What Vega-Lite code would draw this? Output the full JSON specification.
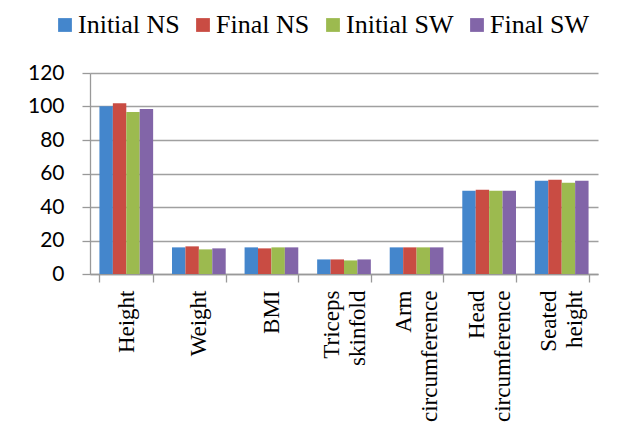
{
  "$schema": "https://vega.github.io/schema/vega-lite/v6.json",
  "width": 508,
  "height": 201,
  "autosize": {"type": "none"},
  "padding": {"left": 90, "top": 73, "right": 23, "bottom": 154},
  "background": "white",
  "config": {"view": {"stroke": null}},
  "data": {
    "values": [
      {"measure": "Height", "series": "Initial NS", "value": 100.2},
      {"measure": "Height", "series": "Final NS", "value": 102.0},
      {"measure": "Height", "series": "Initial SW", "value": 96.7},
      {"measure": "Height", "series": "Final SW", "value": 98.5},
      {"measure": "Weight", "series": "Initial NS", "value": 15.9},
      {"measure": "Weight", "series": "Final NS", "value": 16.5},
      {"measure": "Weight", "series": "Initial SW", "value": 14.7},
      {"measure": "Weight", "series": "Final SW", "value": 15.3},
      {"measure": "BMI", "series": "Initial NS", "value": 15.9},
      {"measure": "BMI", "series": "Final NS", "value": 15.3},
      {"measure": "BMI", "series": "Initial SW", "value": 15.9},
      {"measure": "BMI", "series": "Final SW", "value": 15.9},
      {"measure": "Triceps skinfold", "series": "Initial NS", "value": 8.7},
      {"measure": "Triceps skinfold", "series": "Final NS", "value": 8.7},
      {"measure": "Triceps skinfold", "series": "Initial SW", "value": 8.1},
      {"measure": "Triceps skinfold", "series": "Final SW", "value": 8.7},
      {"measure": "Arm circumference", "series": "Initial NS", "value": 15.9},
      {"measure": "Arm circumference", "series": "Final NS", "value": 15.9},
      {"measure": "Arm circumference", "series": "Initial SW", "value": 15.9},
      {"measure": "Arm circumference", "series": "Final SW", "value": 15.9},
      {"measure": "Head circumference", "series": "Initial NS", "value": 49.7},
      {"measure": "Head circumference", "series": "Final NS", "value": 50.3},
      {"measure": "Head circumference", "series": "Initial SW", "value": 49.7},
      {"measure": "Head circumference", "series": "Final SW", "value": 49.7},
      {"measure": "Seated height", "series": "Initial NS", "value": 55.7},
      {"measure": "Seated height", "series": "Final NS", "value": 56.3},
      {"measure": "Seated height", "series": "Initial SW", "value": 54.5},
      {"measure": "Seated height", "series": "Final SW", "value": 55.7}
    ]
  },
  "mark": {"type": "bar"},
  "encoding": {
    "x": {
      "field": "measure",
      "type": "nominal",
      "sort": ["Height", "Weight", "BMI", "Triceps skinfold", "Arm circumference", "Head circumference", "Seated height"],
      "scale": {"paddingInner": 0.26, "paddingOuter": 0.13},
      "axis": {
        "title": null,
        "labelAngle": -90,
        "labelAlign": "right",
        "labelBaseline": "middle",
        "labelFont": "Liberation Serif",
        "labelFontSize": 23,
        "labelColor": "black",
        "labelExpr": "split(datum.label, ' ')",
        "labelLineHeight": 26,
        "labelOffset": {"condition": {"test": "indexof(datum.label, ' ') >= 0", "value": -13}, "value": 0},
        "labelPadding": 8,
        "tickBand": "extent",
        "tickSize": 8,
        "tickColor": "#999999",
        "tickWidth": 1.3,
        "domainColor": "#999999",
        "domainWidth": 1.3,
        "grid": false
      }
    },
    "xOffset": {"field": "series", "sort": ["Initial NS", "Final NS", "Initial SW", "Final SW"]},
    "y": {
      "field": "value",
      "type": "quantitative",
      "scale": {"domain": [0, 120]},
      "axis": {
        "title": null,
        "values": [0, 20, 40, 60, 80, 100, 120],
        "labelFont": "Lato",
        "labelFontSize": 21,
        "labelColor": "black",
        "labelPadding": 18,
        "tickSize": 8,
        "tickColor": "#999999",
        "tickWidth": 1.3,
        "domainColor": "#999999",
        "domainWidth": 1.3,
        "gridColor": "#A0A0A0",
        "gridWidth": 1.3
      }
    },
    "color": {
      "field": "series",
      "type": "nominal",
      "sort": ["Initial NS", "Final NS", "Initial SW", "Final SW"],
      "scale": {
        "domain": ["Initial NS", "Final NS", "Initial SW", "Final SW"],
        "range": ["#4486CC", "#C94C43", "#9CBA4F", "#8265A8"]
      },
      "legend": {
        "title": null,
        "orient": "none",
        "legendX": -38,
        "legendY": -61,
        "direction": "horizontal",
        "columns": 4,
        "symbolType": "square",
        "symbolSize": 190,
        "symbolStrokeWidth": 0,
        "labelFont": "Liberation Serif",
        "labelFontSize": 26,
        "labelColor": "black",
        "labelOffset": 0,
        "columnPadding": 10
      }
    }
  }
}
